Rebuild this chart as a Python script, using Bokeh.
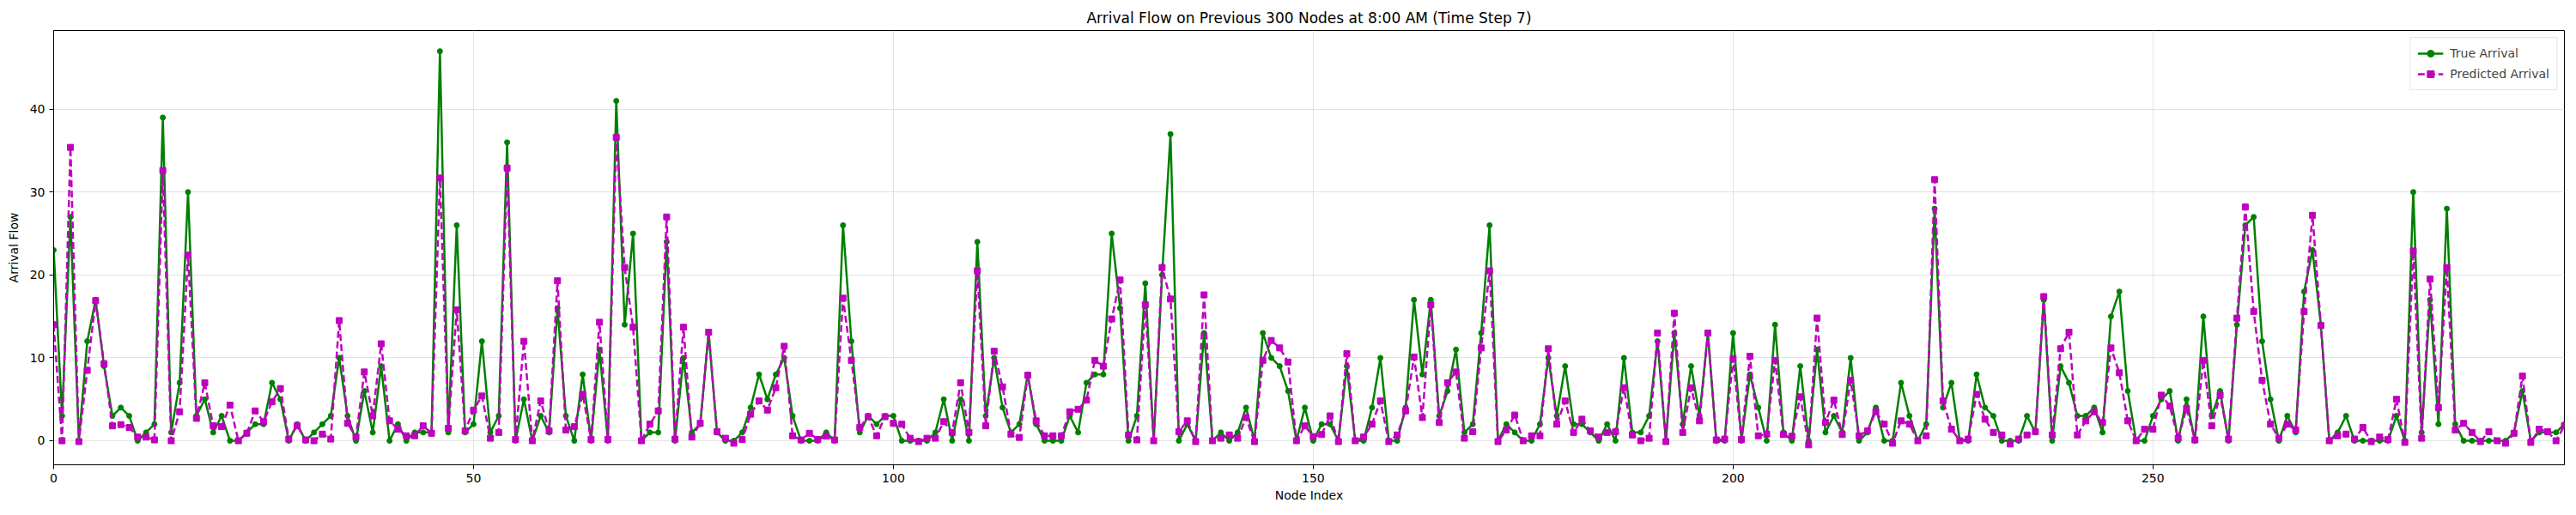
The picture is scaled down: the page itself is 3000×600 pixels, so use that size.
from bokeh.plotting import figure
from bokeh.models import Range1d, Legend, LegendItem, FixedTicker, ColumnDataSource
from bokeh.embed import file_html
from bokeh.resources import INLINE

node_index = list(range(300))

true_arrival = [
    23, 3, 27, 0, 12, 17, 9, 3, 4, 3,
    0, 1, 2, 39, 1, 7, 30, 3, 5, 1,
    3, 0, 0, 1, 2, 2, 7, 5, 0, 2,
    0, 1, 2, 3, 10, 3, 0, 6, 1, 9,
    0, 2, 0, 1, 1, 1, 47, 1, 26, 1,
    2, 12, 1, 3, 36, 0, 5, 0, 3, 1,
    16, 3, 0, 8, 0, 11, 0, 41, 14, 25,
    0, 1, 1, 24, 0, 10, 1, 2, 13, 1,
    0, 0, 1, 4, 8, 5, 8, 10, 3, 0,
    0, 0, 1, 0, 26, 12, 1, 3, 2, 3,
    3, 0, 0, 0, 0, 1, 5, 0, 5, 0,
    24, 3, 10, 4, 1, 2, 8, 2, 0, 0,
    0, 3, 1, 7, 8, 8, 25, 16, 0, 3,
    19, 0, 20, 37, 0, 2, 0, 13, 0, 1,
    0, 1, 4, 0, 13, 10, 9, 6, 0, 4,
    0, 2, 2, 0, 9, 0, 0, 4, 10, 0,
    0, 4, 17, 8, 17, 3, 6, 11, 1, 2,
    13, 26, 0, 2, 1, 0, 0, 2, 10, 3,
    9, 2, 2, 1, 0, 2, 0, 10, 1, 1,
    3, 12, 0, 13, 2, 9, 3, 13, 0, 0,
    13, 0, 8, 4, 0, 14, 1, 0, 9, 0,
    11, 1, 3, 1, 10, 0, 1, 4, 0, 0,
    7, 3, 0, 2, 28, 4, 7, 0, 0, 8,
    4, 3, 0, 0, 0, 3, 1, 17, 0, 9,
    7, 3, 3, 4, 1, 15, 18, 6, 0, 0,
    3, 5, 6, 0, 5, 0, 15, 3, 6, 0,
    14, 26, 27, 12, 5, 0, 3, 1, 18, 23,
    14, 0, 1, 3, 0, 0, 0, 0, 0, 3,
    0, 30, 1, 17, 2, 28, 2, 0, 0, 0,
    0, 0, 0, 1, 6, 0, 1, 1, 1, 2,
]

predicted_arrival = [
    14, 0, 35.4, -0.1, 8.5, 16.9, 9.3, 1.8, 1.95, 1.6,
    0.45, 0.45, 0.1, 32.6, 0, 3.5, 22.4, 2.7, 7.0, 1.8,
    1.7, 4.3, 0, 0.9, 3.6, 2.3, 4.7, 6.3, 0.2, 1.8,
    0.1, 0, 0.8, 0.2, 14.5, 2.1, 0.45, 8.3, 3.0, 11.7,
    2.4, 1.4, 0.6, 0.6, 1.8, 0.9, 31.7, 1.5, 15.8, 1.2,
    3.7, 5.4, 0.3, 1.0, 32.9, 0.15, 12.0, 0, 4.8, 1.2,
    19.3, 1.3, 1.7, 5.6, 0.15, 14.3, 0.15, 36.6, 20.9, 13.7,
    0, 2.0, 3.6, 27.0, 0.2, 13.7, 0.45, 2.1, 13.1, 1.1,
    0.3, -0.3, 0.15, 3.2, 4.8, 3.7, 6.4, 11.4, 0.6, 0.1,
    0.9, 0.15, 0.55, 0.1, 17.2, 9.7, 1.6, 2.9, 0.6, 2.9,
    2.1, 2.0, 0.3, -0.1, 0.3, 0.3, 2.3, 1.0, 7.0, 1.0,
    20.5, 1.8, 10.8, 6.5, 0.8, 0.4, 7.9, 2.4, 0.6, 0.6,
    0.6, 3.5, 3.8, 4.9, 9.7, 9.0, 14.7, 19.4, 0.7, 0.1,
    16.4, 0, 20.9, 17.1, 1.1, 2.4, -0.1, 17.6, 0, 0.3,
    0.7, 0.3, 2.8, -0.1, 9.7, 12.1, 11.2, 9.5, 0, 1.8,
    0.5, 0.75, 3.0, -0.1, 10.5, 0, 0.45, 2.0, 4.8, -0.1,
    0.7, 3.6, 10.1, 2.8, 16.4, 2.2, 7.0, 8.3, 0.3, 1.1,
    11.2, 20.5, -0.1, 1.3, 3.1, 0, 0.6, 0.6, 11.1, 2.0,
    4.8, 1.0, 2.6, 1.2, 0.45, 1.0, 1.1, 6.4, 0.7, 0,
    0.3, 13.0, -0.1, 15.4, 1.0, 6.4, 2.4, 13.0, 0.1, 0.2,
    9.9, 0.15, 10.2, 0.6, 0.8, 9.7, 0.75, 0.55, 5.3, -0.5,
    14.8, 2.2, 4.9, 0.75, 7.3, 0.6, 1.2, 3.5, 2.0, -0.3,
    2.4, 2.0, 0, 0.6, 31.5, 4.8, 1.4, 0, 0.2, 5.6,
    2.6, 1.0, 0.7, -0.4, 0.2, 0.7, 1.1, 17.4, 0.7, 11.1,
    13.1, 0.7, 2.4, 3.5, 2.2, 11.2, 8.2, 2.4, 0, 1.4,
    1.4, 5.5, 4.2, 0.3, 3.9, 0.1, 9.7, 1.8, 5.5, 0.2,
    14.8, 28.2, 15.6, 7.3, 2.0, 0.3, 2.0, 1.3, 15.6, 27.2,
    13.9, 0, 0.6, 0.8, 0.2, 1.6, -0.1, 0.45, 0.15, 5.0,
    -0.2, 22.9, 0.3, 19.5, 4.0, 20.9, 1.3, 2.1, 1.0, -0.1,
    1.1, 0, -0.3, 0.9, 7.8, -0.2, 1.4, 1.1, 0, 1.8,
]

x_ticks = [0, 50, 100, 150, 200, 250]
y_ticks = [0, 10, 20, 30, 40]

FONT = "DejaVu Sans"

p = figure(width=3000, height=600, output_backend="svg", toolbar_location=None,
           x_range=Range1d(0, 299), y_range=Range1d(-2.9, 49.5),
           title="Arrival Flow on Previous 300 Nodes at 8:00 AM (Time Step 7)",
           min_border_left=62, min_border_right=14, min_border_top=35, min_border_bottom=59)

p.title.align = "center"
p.title.text_font = FONT
p.title.text_font_size = "17px"
p.title.text_font_style = "normal"
p.title.text_color = "black"

p.outline_line_color = "black"
p.outline_line_width = 1
p.background_fill_color = "white"
p.border_fill_color = "white"

for ax in (p.xaxis, p.yaxis):
    ax.axis_line_color = "black"
    ax.major_tick_line_color = "black"
    ax.major_tick_out = 5
    ax.major_tick_in = 0
    ax.minor_tick_line_color = None
    ax.major_label_text_font = FONT
    ax.major_label_text_font_size = "14px"
    ax.major_label_text_color = "black"
    ax.axis_label_text_font = FONT
    ax.axis_label_text_font_size = "14px"
    ax.axis_label_text_font_style = "normal"
    ax.axis_label_text_color = "black"

p.xaxis.ticker = FixedTicker(ticks=x_ticks)
p.yaxis.ticker = FixedTicker(ticks=y_ticks)
p.xaxis.axis_label = "Node Index"
p.yaxis.axis_label = "Arrival Flow"
p.xaxis.axis_label_standoff = 4
p.yaxis.axis_label_standoff = 8

p.grid.grid_line_color = "#e3e3e3"
p.grid.grid_line_width = 1

src = ColumnDataSource(dict(x=node_index, t=true_arrival, pr=predicted_arrival))

l1 = p.line("x", "t", source=src, line_color="green", line_width=2.5)
s1 = p.scatter("x", "t", source=src, marker="circle", size=6,
               fill_color="green", line_color="green")
l2 = p.line("x", "pr", source=src, line_color="#bf00bf", line_width=2.5, line_dash="8 4")
s2 = p.scatter("x", "pr", source=src, marker="square", size=7,
               fill_color="#bf00bf", line_color="#bf00bf")

legend = Legend(items=[LegendItem(label="True Arrival", renderers=[l1, s1]),
                       LegendItem(label="Predicted Arrival", renderers=[l2, s2])],
                location="top_right")
legend.label_text_font = FONT
legend.label_text_font_size = "14px"
legend.border_line_color = "#cccccc"
legend.background_fill_alpha = 0.85
legend.glyph_width = 30
legend.label_standoff = 8
legend.spacing = 4
legend.padding = 8
legend.margin = 8
p.add_layout(legend)

open("out.html", "w").write(file_html(p, INLINE))
